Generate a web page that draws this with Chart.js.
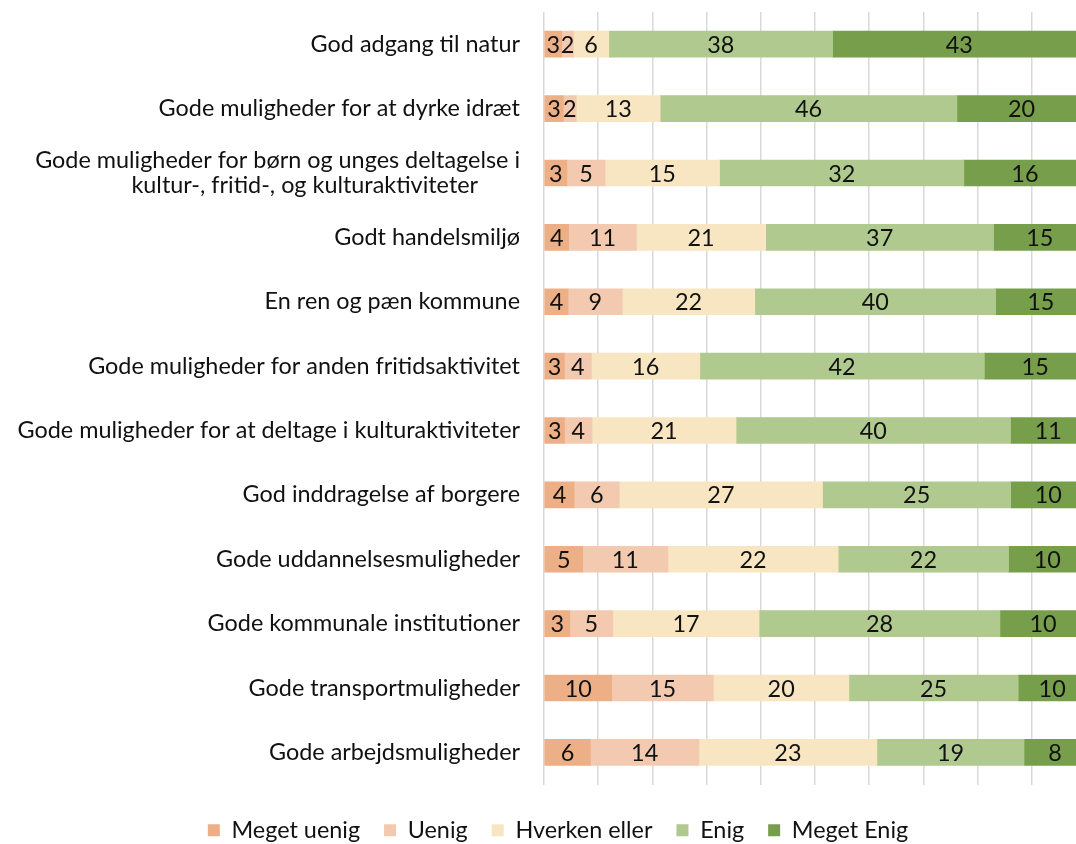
<!DOCTYPE html>
<html>
<head>
<meta charset="utf-8">
<script src="https://cdn.jsdelivr.net/npm/chart.js@4"></script>
<style>
  html, body { margin: 0; padding: 0; background: #fff; overflow: hidden; }
  #wrap { position: absolute; left: 0; top: 0; width: 1116px; height: 852px; }
</style>
</head>
<body>
<div id="wrap"><canvas id="chart" width="1116" height="852"></canvas></div>
<script>
const categories = [
  'God adgang til natur',
  'Gode muligheder for at dyrke idræt',
  ['Gode muligheder for børn og unges deltagelse i', 'kultur-, fritid-, og kulturaktiviteter       '],
  'Godt handelsmiljø',
  'En ren og pæn kommune',
  'Gode muligheder for anden fritidsaktivitet',
  'Gode muligheder for at deltage i kulturaktiviteter',
  'God inddragelse af borgere',
  'Gode uddannelsesmuligheder',
  'Gode kommunale institutioner',
  'Gode transportmuligheder',
  'Gode arbejdsmuligheder'
];

const seriesNames = ['Meget uenig', 'Uenig', 'Hverken eller', 'Enig', 'Meget Enig'];
const seriesColors = ['#EDAF86', '#F3CAAF', '#F8E5C2', '#AFC98E', '#779E4B'];

const megetUenig = [3, 3, 3, 4, 4, 3, 3, 4, 5, 3, 10, 6];
const uenig      = [2, 2, 5, 11, 9, 4, 4, 6, 11, 5, 15, 14];
const hverken    = [6, 13, 15, 21, 22, 16, 21, 27, 22, 17, 20, 23];
const enig       = [38, 46, 32, 37, 40, 42, 40, 25, 22, 28, 25, 19];
const megetEnig  = [43, 20, 16, 15, 15, 15, 11, 10, 10, 10, 10, 8];

const xTicks = [0, 10, 20, 30, 40, 50, 60, 70, 80, 90, 100];

const raw = [megetUenig, uenig, hverken, enig, megetEnig];
const totals = categories.map((c, i) => raw.reduce((s, arr) => s + arr[i], 0));

const FONT = 'Lato, Calibri, "Open Sans", sans-serif';

// pick a font size so the longest label is about as wide as in the original
const measureCtx = document.createElement('canvas').getContext('2d');
measureCtx.font = '100px ' + FONT;
const longW = measureCtx.measureText('Gode muligheder for at deltage i kulturaktiviteter').width;
const fontSize = Math.round(100 * 503 / longW * 10) / 10;

// draws the raw numbers in the middle of each segment
const valueLabels = {
  id: 'valueLabels',
  afterDatasetsDraw(chart) {
    const ctx = chart.ctx;
    ctx.save();
    ctx.font = fontSize + 'px ' + FONT;
    ctx.fillStyle = '#111';
    ctx.textAlign = 'center';
    ctx.textBaseline = 'middle';
    chart.data.datasets.forEach((ds, di) => {
      chart.getDatasetMeta(di).data.forEach((bar, i) => {
        const cx = (bar.x + bar.base) / 2;
        ctx.fillText(String(ds.rawValues[i]), cx, bar.y + 1);
      });
    });
    ctx.restore();
  }
};

new Chart(document.getElementById('chart'), {
  type: 'bar',
  data: {
    labels: categories,
    datasets: raw.map((arr, k) => ({
      label: seriesNames[k],
      data: arr.map((v, i) => v / totals[i] * 100),
      rawValues: arr,
      backgroundColor: seriesColors[k],
      borderWidth: 0,
      barThickness: 26,
      yAxisID: 'y'
    }))
  },
  options: {
    indexAxis: 'y',
    responsive: false,
    animation: false,
    layout: { padding: { left: 0, right: 0, top: 12, bottom: 0 } },
    scales: {
      x: {
        stacked: true,
        min: 0,
        max: 100,
        afterBuildTicks(scale) { scale.ticks = xTicks.map(v => ({ value: v })); },
        afterFit(scale) { scale.height = 10; },
        ticks: { display: false },
        grid: { color: '#D9D9D9', lineWidth: 1.5, drawTicks: false },
        border: { display: false }
      },
      y: {
        stacked: true,
        afterFit(scale) {
          scale.width = 544;
          scale.paddingTop = 0;
          scale.paddingBottom = 0;
        },
        ticks: {
          font: { family: FONT, size: fontSize, lineHeight: 1.05 },
          color: '#111',
          padding: 16,
          autoSkip: false
        },
        grid: { display: false },
        border: { display: false }
      },
      // empty strip on the right so the plot runs past the page edge like the original
      yRight: {
        type: 'category',
        position: 'right',
        afterFit(scale) {
          scale.width = 30;
          scale.paddingTop = 0;
          scale.paddingBottom = 0;
        },
        ticks: { display: false },
        grid: { display: false },
        border: { display: false }
      }
    },
    plugins: {
      legend: {
        position: 'bottom',
        labels: {
          font: { family: FONT, size: fontSize },
          color: '#111',
          boxWidth: 12,
          boxHeight: 12,
          padding: 24
        }
      },
      tooltip: { enabled: false }
    }
  },
  plugins: [valueLabels]
});
</script>
</body>
</html>
